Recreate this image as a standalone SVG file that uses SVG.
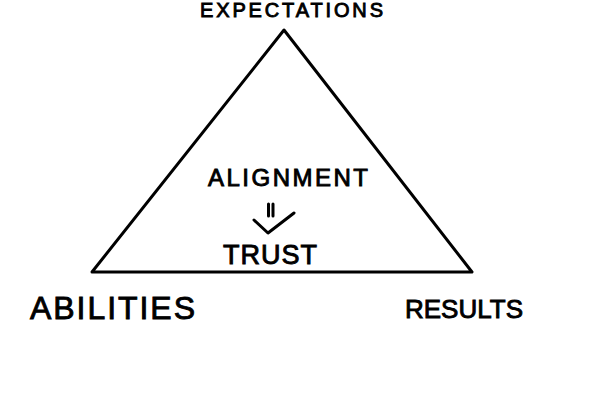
<svg xmlns="http://www.w3.org/2000/svg" width="600" height="400" viewBox="0 0 600 400">
<style>
.t{font-family:"Liberation Sans","DejaVu Sans",sans-serif;fill:#000;stroke:#000;stroke-width:0.9}
.ln{fill:none;stroke:#000;stroke-width:3;stroke-linecap:round;stroke-linejoin:round}
</style>
<rect width="600" height="400" fill="#fff"/>
<g id="triangle">
<path class="ln" d="M284 30 L472 272 L92 272 Z"/>
</g>
<g id="expectations"><text class="t" x="200" y="17" font-size="20" textLength="183" lengthAdjust="spacing">EXPECTATIONS</text></g>
<g id="alignment"><text class="t" x="208" y="186" font-size="24" textLength="160" lengthAdjust="spacing">ALIGNMENT</text></g>
<g id="connectors">
<path class="ln" d="M268.5 204 L268.5 216 M273 204 L273 216 M254 220 L268 233 L294 213"/>
</g>
<g id="trust"><text class="t" x="223" y="264" font-size="27" textLength="94" lengthAdjust="spacing">TRUST</text></g>
<g id="abilities"><text class="t" x="30" y="319" font-size="32" textLength="165" lengthAdjust="spacing">ABILITIES</text></g>
<g id="results"><text class="t" x="405" y="318" font-size="26" textLength="118" lengthAdjust="spacing">RESULTS</text></g>
</svg>
